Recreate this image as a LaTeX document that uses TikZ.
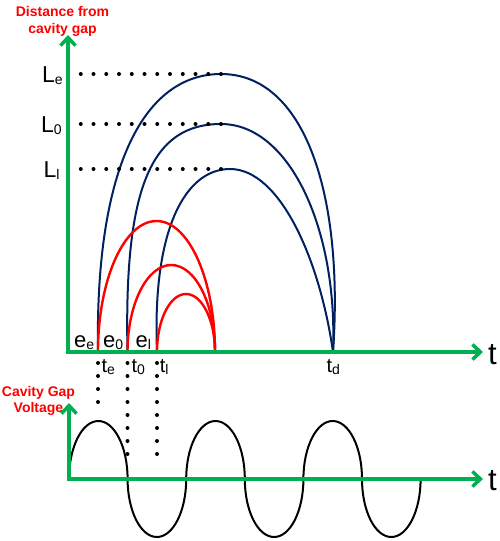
\documentclass[tikz,border=0pt]{standalone}
\usepackage{fontspec}
\setmainfont{Liberation Sans}
\usetikzlibrary{arrows.meta}
\definecolor{axgreen}{RGB}{0,176,80}
\definecolor{trajblue}{RGB}{0,32,96}
\definecolor{gapred}{RGB}{255,0,0}
\newcommand{\setfs}[1]{\fontsize{#1}{#1}\selectfont}
\newcommand{\sublab}[4]{{\setfs{#1}#2}\raisebox{-2pt}{\setfs{#3}#4}}
\begin{document}
\begin{tikzpicture}[x=1pt,y=-1pt,
  axis/.style={draw=axgreen, line width=3.5pt,
    {Straight Barb[length=8pt,width=15pt]}-{Straight Barb[length=8pt,width=15pt]}},
  traj/.style={draw=trajblue, line width=2pt},
  bunch/.style={draw=gapred, line width=2.4pt},
  wave/.style={draw=black, line width=2pt},
  dotsh/.style={line width=4pt, line cap=round, dash pattern=on 0pt off 12.75pt},
  dotsv/.style={line width=4pt, line cap=round, dash pattern=on 0pt off 13pt},
  title/.style={text=gapred, font=\setfs{14}\bfseries, inner sep=0pt, anchor=base},
  lbl/.style={inner sep=0pt, anchor=base west}]
\useasboundingbox (0,0) rectangle (500,541);

% key points
\coordinate (O) at (68,352);
\coordinate (ytop) at (68,35);
\coordinate (xend) at (483,352);
\coordinate (O2) at (69,479);
\coordinate (ytop2) at (69,403);
\coordinate (xend2) at (483,479);
\coordinate (te) at (98,352);
\coordinate (t0) at (127.5,352);
\coordinate (tl) at (157,352);
\coordinate (td) at (333,352);
\coordinate (pe) at (221,74);
\coordinate (p0) at (221,124);
\coordinate (pl) at (230,169);
\coordinate (dl) at (221,169);
\coordinate (Le) at (68,74);
\coordinate (L0) at (68,124);
\coordinate (Ll) at (68,169);

% electron trajectories (blue)
\draw[traj] (te) .. controls (95,165) and (145,74) .. (pe)
               .. controls (305,74) and (344,195) .. (td);
\draw[traj] (t0) .. controls (124,190) and (150,124) .. (p0)
               .. controls (290,124) and (338,230) .. (td);
\draw[traj] (tl) .. controls (152,230) and (185,169) .. (pl)
               .. controls (280,169) and (320,260) .. (td);

% bunching trajectories (red)
\draw[bunch] (te) arc[start angle=180,end angle=360,x radius=58.5,y radius=131];
\draw[bunch] (t0) arc[start angle=180,end angle=360,x radius=43.75,y radius=87];
\draw[bunch] (tl) arc[start angle=180,end angle=360,x radius=29,y radius=58];

% gap voltage
\draw[wave] (O2)
  arc[start angle=180,end angle=360,x radius=29.3,y radius=58]
  arc[start angle=180,end angle=0,x radius=29.3,y radius=58]
  arc[start angle=180,end angle=360,x radius=29.3,y radius=58]
  arc[start angle=180,end angle=0,x radius=29.3,y radius=58]
  arc[start angle=180,end angle=360,x radius=29.3,y radius=58]
  arc[start angle=180,end angle=0,x radius=29.3,y radius=58];

% dotted guides
\draw[dotsh] (Le) -- (pe);
\draw[dotsh] (L0) -- (p0);
\draw[dotsh] (Ll) -- (dl);
\draw[dotsv] (98,363) -- (98,415);
\draw[dotsv] (127.5,363) -- (127.5,467);
\draw[dotsv] (157,363) -- (157,467);

% axes
\draw[axis] (ytop) -- (O) -- (xend);
\draw[axis] (ytop2) -- (O2) -- (xend2);

% titles
\node[title] (ttl1) at (62.5,16) {Distance from};
\node[title] (ttl2) at (62.5,33) {cavity gap};
\node[title] (ttl3) at (38.5,396.5) {Cavity Gap};
\node[title] (ttl4) at (38.5,412) {Voltage};

% L labels
\node[lbl] (labLe) at (42,82) {\sublab{23}{L}{14}{e}};
\node[lbl] (labL0) at (41,132) {\sublab{23}{L}{14}{0}};
\node[lbl] (labLl) at (43.5,177) {\sublab{23}{L}{14}{l}};

% e labels
\node[lbl] (labee) at (74,347) {\sublab{22}{e}{14}{e}};
\node[lbl] (labe0) at (103,347) {\sublab{22}{e}{14}{0}};
\node[lbl] (label) at (135.5,347) {\sublab{22}{e}{14}{l}};

% t labels
\node[lbl] (labte) at (101.4,372.5) {\sublab{20}{t}{14}{e}};
\node[lbl] (labt0) at (131.4,372.5) {\sublab{20}{t}{14}{0}};
\node[lbl] (labtl) at (159.7,372.5) {\sublab{20}{t}{14}{l}};
\node[lbl] (labtd) at (326.4,372.5) {\sublab{20}{t}{14}{d}};

% axis labels
\node[lbl] (tax1) at (488,364) {\setfs{31}t};
\node[lbl] (tax2) at (488,490) {\setfs{31}t};
\end{tikzpicture}
\end{document}
